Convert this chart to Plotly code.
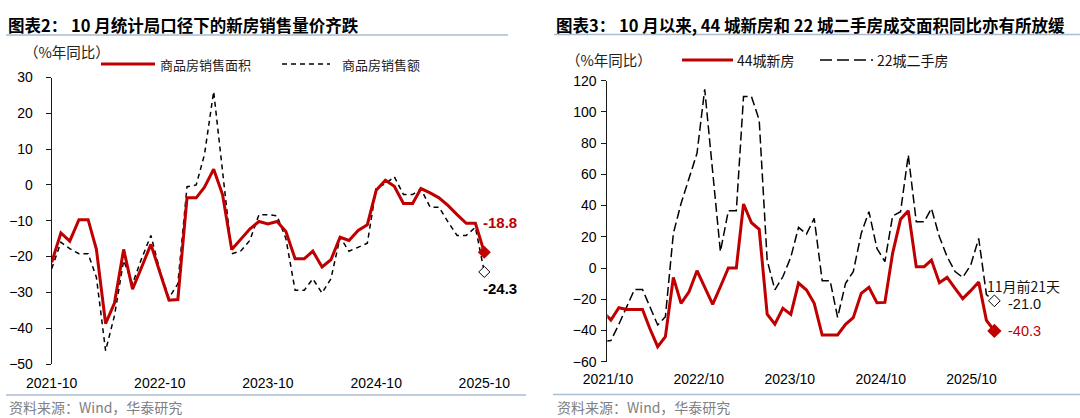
import plotly.graph_objects as go
import pandas as pd

W, H = 1080, 418

# ---------------- Left chart data (统计局口径, monthly) ----------------
left_months = pd.date_range("2021-10-01", "2025-10-01", freq="MS")
area_yoy = [-21.6, -13.4, -15.7, -9.7, -9.7, -18.0, -38.7, -33.0, -18.0, -29.1,
            -22.9, -16.6, -24.3, -32.2, -32.0, -3.6, -3.6, -0.6, 4.4, -2.7,
            -18.0, -15.2, -12.3, -10.2, -10.9, -10.2, -13.0, -20.6, -20.6, -18.5,
            -22.9, -20.9, -14.6, -15.5, -12.7, -11.1, -1.5, 1.3, -0.4, -5.2,
            -5.2, -1.0, -2.2, -3.6, -5.8, -8.3, -10.7, -10.7, -18.8]
value_yoy = [-23.4, -16.0, -17.8, -19.2, -19.2, -25.8, -46.3, -36.5, -21.1, -27.6,
             -20.5, -14.1, -23.8, -31.6, -27.6, -0.5, 0.0, 8.5, 26.1, 3.0,
             -19.2, -18.5, -15.5, -8.3, -8.3, -8.6, -15.0, -29.4, -29.4, -26.2,
             -30.2, -26.2, -14.6, -18.5, -17.4, -16.3, -0.8, 0.3, 2.3, -2.7,
             -2.7, -1.1, -6.2, -6.2, -10.4, -14.1, -14.1, -11.8, -24.3]
left_tick_vals = ["2021-10-01", "2022-10-01", "2023-10-01", "2024-10-01", "2025-10-01"]
left_tick_text = ["2021-10", "2022-10", "2023-10", "2024-10", "2025-10"]
left_y_ticks = [-50, -40, -30, -20, -10, 0, 10, 20, 30]

# ---------------- Right chart data (44城新房 / 22城二手房) ----------------
right_months = pd.date_range("2021-09-01", "2025-11-01", freq="MS") + pd.Timedelta(days=14)
new_44 = [-28.0, -33.3, -25.4, -26.5, -26.5, -26.5, -38.6, -50.4, -44.0, -6.0,
          -22.6, -15.2, -1.7, -12.0, -23.3, -12.0, 0.0, 0.0, 41.0, 29.0,
          24.8, -29.5, -35.9, -25.8, -29.7, -9.6, -14.1, -22.6, -42.9, -42.9,
          -42.9, -36.1, -31.8, -16.2, -12.4, -22.2, -22.0, 9.4, 31.2, 36.7,
          0.9, 0.9, 5.1, -9.4, -6.0, -13.0, -19.6, -14.5, -9.0, -33.5,
          -40.3]
second_22 = [-47.0, -46.5, -36.0, -25.0, -13.7, -13.7, -24.8, -36.5, -31.2, 22.2,
             41.4, 57.4, 73.5, 114.5, 64.0, 10.5, 36.7, 36.7, 109.8, 109.8,
             94.8, 5.0, -14.0, -5.6, 7.0, 26.0, 21.8, 31.8, -8.1, -8.1,
             -31.6, -9.8, -2.3, 22.2, 36.1, 12.6, 4.1, 33.3, 36.1, 72.4,
             29.7, 29.7, 38.2, 20.0, 7.3, -2.3, -6.0, 1.9, 19.0, -17.0,
             -21.0]
right_tick_vals = ["2021-10-01", "2022-10-01", "2023-10-01", "2024-10-01", "2025-10-01"]
right_label_vals = ["2021-10-04", "2022-09-22", "2023-09-11", "2024-08-30", "2025-08-18"]
right_tick_text = ["2021/10", "2022/10", "2023/10", "2024/10", "2025/10"]
right_y_ticks = [-60, -40, -20, 0, 20, 40, 60, 80, 100, 120]

RED = "#C00000"
NUM_FONT = "Liberation Sans, Arial, Noto Sans CJK SC"
CJK_FONT = "Noto Sans CJK SC, Liberation Sans"


def px(x):
    return x / W


def py(y):
    return 1 - y / H


# plot-area geometry
L_X = [px(51.7), px(484.3)]
L_Y = [py(364.0), py(77.5)]
R_X = [px(607.3), px(998.5)]
R_Y = [py(361.7), py(80.7)]
L_RANGE = [-50, 30]
R_RANGE = [-60, 120]
l_zero = L_Y[0] + (0 - L_RANGE[0]) / (L_RANGE[1] - L_RANGE[0]) * (L_Y[1] - L_Y[0])
r_zero = R_Y[0] + (0 - R_RANGE[0]) / (R_RANGE[1] - R_RANGE[0]) * (R_Y[1] - R_Y[0])

fig = go.Figure()

# ---- left traces
fig.add_trace(go.Scatter(x=left_months, y=value_yoy, mode="lines", name="商品房销售额",
                         line=dict(color="#000000", width=1.5, dash="5px,4px"),
                         xaxis="x", yaxis="y", showlegend=False))
fig.add_trace(go.Scatter(x=left_months, y=area_yoy, mode="lines", name="商品房销售面积",
                         line=dict(color=RED, width=3),
                         xaxis="x", yaxis="y", showlegend=False))
fig.add_trace(go.Scatter(x=[left_months[-1]], y=[area_yoy[-1]], mode="markers",
                         marker=dict(symbol="diamond", size=10, color=RED),
                         xaxis="x", yaxis="y", showlegend=False, cliponaxis=False))
fig.add_trace(go.Scatter(x=[left_months[-1]], y=[value_yoy[-1]], mode="markers",
                         marker=dict(symbol="diamond", size=8.5, color="white",
                                     line=dict(color="#000000", width=1)),
                         xaxis="x", yaxis="y", showlegend=False, cliponaxis=False))

# ---- right traces
fig.add_trace(go.Scatter(x=right_months, y=second_22, mode="lines", name="22城二手房",
                         line=dict(color="#000000", width=1.5, dash="9px,4px"),
                         xaxis="x2", yaxis="y2", showlegend=False))
fig.add_trace(go.Scatter(x=right_months, y=new_44, mode="lines", name="44城新房",
                         line=dict(color=RED, width=3),
                         xaxis="x2", yaxis="y2", showlegend=False))
fig.add_trace(go.Scatter(x=[right_months[-1]], y=[new_44[-1]], mode="markers",
                         marker=dict(symbol="diamond", size=11, color=RED),
                         xaxis="x2", yaxis="y2", showlegend=False, cliponaxis=False))
fig.add_trace(go.Scatter(x=[right_months[-1]], y=[second_22[-1]], mode="markers",
                         marker=dict(symbol="diamond", size=9, color="white",
                                     line=dict(color="#000000", width=1)),
                         xaxis="x2", yaxis="y2", showlegend=False, cliponaxis=False))

tickfont = dict(family=NUM_FONT, size=14, color="#000000")

fig.update_layout(
    width=W, height=H,
    margin=dict(l=0, r=0, t=0, b=0, autoexpand=False),
    paper_bgcolor="white", plot_bgcolor="white",
    showlegend=False,
    # left
    xaxis=dict(domain=L_X, anchor="y", type="date", automargin=False,
               range=["2021-10-01", "2025-10-01"],
               tickvals=left_tick_vals, ticktext=left_tick_text,
               showgrid=False, zeroline=False, showline=False, ticks="",
               tickfont=tickfont, ticklabelstandoff=9),
    yaxis=dict(domain=L_Y, anchor="x", range=L_RANGE, tickvals=left_y_ticks, automargin=False,
               showgrid=False, zeroline=False, showline=True, linecolor="#1a1a1a",
               linewidth=1, ticks="outside", ticklen=5, tickcolor="#1a1a1a",
               tickfont=tickfont, ticklabelstandoff=10),
    xaxis3=dict(overlaying="x", anchor="free", position=l_zero, type="date", automargin=False,
                range=["2021-10-01", "2025-10-01"], tickvals=left_tick_vals,
                showticklabels=False, showgrid=False, zeroline=False,
                showline=True, linecolor="#707070", linewidth=1,
                ticks="outside", ticklen=4, tickcolor="#707070", layer="below traces"),
    # right
    xaxis2=dict(domain=R_X, anchor="y2", type="date", automargin=False,
                range=["2021-10-01", "2025-12-01"],
                tickvals=right_label_vals, ticktext=right_tick_text,
                showgrid=False, zeroline=False, showline=False, ticks="",
                tickfont=tickfont, ticklabelstandoff=7),
    yaxis2=dict(domain=R_Y, anchor="x2", range=R_RANGE, tickvals=right_y_ticks, automargin=False,
                showgrid=False, zeroline=False, showline=True, linecolor="#1a1a1a",
                linewidth=1, ticks="outside", ticklen=5, tickcolor="#1a1a1a",
                tickfont=tickfont, ticklabelstandoff=2),
    xaxis4=dict(overlaying="x2", anchor="free", position=r_zero, type="date", automargin=False,
                range=["2021-10-01", "2025-12-01"], tickvals=right_tick_vals,
                showticklabels=False, showgrid=False, zeroline=False,
                showline=True, linecolor="#707070", linewidth=1,
                ticks="outside", ticklen=4, tickcolor="#707070", layer="below traces"),
)

shapes = []
annotations = []


def hline(x0, x1, y, color, width, dash="solid"):
    shapes.append(dict(type="line", xref="paper", yref="paper",
                       x0=px(x0), x1=px(x1), y0=py(y), y1=py(y),
                       line=dict(color=color, width=width, dash=dash)))


def text(x, y, s, size=13, color="#222222", family=CJK_FONT, anchor="left", bold=False):
    if bold:
        s = "<b>" + s + "</b>"
    annotations.append(dict(xref="paper", yref="paper", x=px(x), y=py(y), text=s,
                            showarrow=False, xanchor=anchor, yanchor="middle",
                            font=dict(family=family, size=size, color=color)))


SEP = "#A9BDD3"
# titles
text(6, 25, "图表2： 10 月统计局口径下的新房销售量价齐跌", size=16.5, color="#000000", bold=True)
text(554, 25, "图表3： 10 月以来, 44 城新房和 22 城二手房成交面积同比亦有所放缓", size=16.5,
     color="#000000", bold=True)
hline(6, 508, 35, SEP, 1.5)
hline(554, 1080, 34.5, SEP, 1.5)
# bottom separators and source
hline(6, 526, 395, SEP, 1.5)
hline(553, 1080, 394.5, SEP, 1.5)
text(7, 407, "资料来源：Wind，华泰研究", size=14, color="#808080")
text(555, 407, "资料来源：Wind，华泰研究", size=14, color="#808080")

# unit labels
text(22, 51.7, "（%年同比）", size=14.5, color="#222222")
text(564, 60, "（%年同比）", size=14.5, color="#222222")

# left legend
hline(101, 155, 64, RED, 3)
text(158, 64, "商品房销售面积", size=13)
hline(282, 330, 64, "#000000", 1.5, "5px,4px")
text(340, 64, "商品房销售额", size=13)

# right legend
hline(682, 733, 60, RED, 3)
text(735, 60, "44城新房", size=14, color="#111111")
hline(820, 873, 60, "#000000", 1.5, "12px,5px")
text(875, 60, "22城二手房", size=14, color="#111111")

# end labels left
text(481, 222.5, f"{area_yoy[-1]:.1f}", size=15, color=RED, family=NUM_FONT, bold=True)
text(481, 288, f"{value_yoy[-1]:.1f}", size=15, color="#000000", family=NUM_FONT, bold=True)

# end labels right
text(985, 286, "11月前21天", size=14, color="#111111")
text(1006, 304, f"{second_22[-1]:.1f}", size=14.5, color="#111111", family=NUM_FONT)
text(1006, 331, f"{new_44[-1]:.1f}", size=14.5, color=RED, family=NUM_FONT)

fig.update_layout(shapes=shapes, annotations=annotations)

fig.write_html("out.html", config={"displayModeBar": False},
               post_script="document.body.style.margin='0px';document.body.style.overflow='hidden';")
